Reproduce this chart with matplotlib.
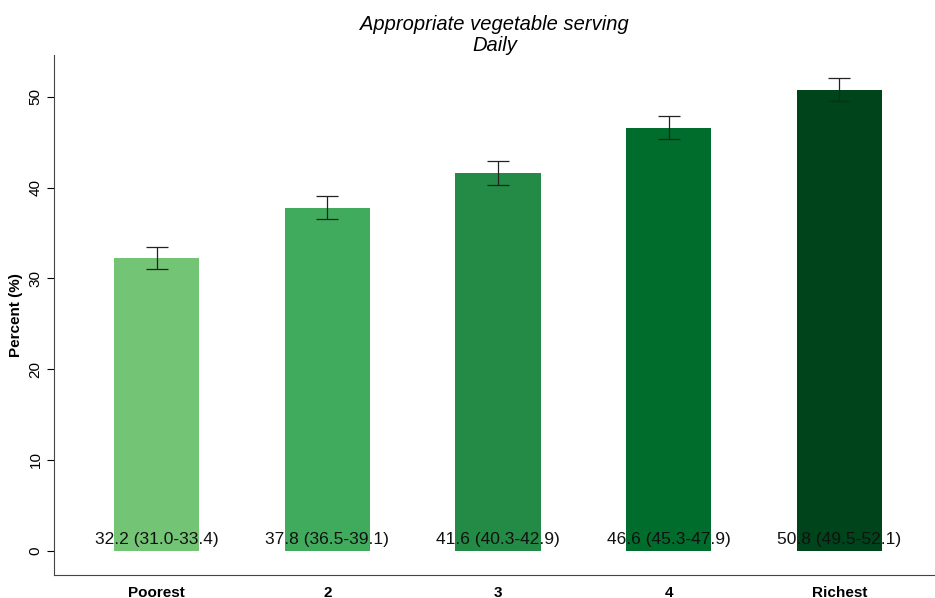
import matplotlib.pyplot as plt

plt.rcParams["font.family"] = ["Liberation Sans", "DejaVu Sans"]

groups = ["Poorest", "2", "3", "4", "Richest"]
percent = [32.2, 37.8, 41.6, 46.6, 50.8]
lower = [31.0, 36.5, 40.3, 45.3, 49.5]
upper = [33.4, 39.1, 42.9, 47.9, 52.1]
colors = ["#74c476", "#41ab5d", "#238b45", "#006d2c", "#00441b"]

fig = plt.figure(figsize=(9.35, 5.98), dpi=100)
ax = fig.add_axes([0.058, 0.039, 0.942, 0.869])

x = list(range(len(groups)))
err = [[p - l for p, l in zip(percent, lower)],
       [u - p for p, u in zip(percent, upper)]]
ax.bar(x, percent, width=0.5, color=colors)
ax.errorbar(x, percent, yerr=err, fmt="none", ecolor="#222222",
            elinewidth=0.9, capsize=8, capthick=0.9)

for xi, p, l, u in zip(x, percent, lower, upper):
    ax.text(xi, 1.2, "{0:.1f} ({1:.1f}-{2:.1f})".format(p, l, u),
            ha="center", va="center", fontsize=12.5, color="#111111")

ax.set_xlim(-0.6, 4.56)
ax.set_ylim(-2.65, 54.6)
ax.set_yticks([0, 10, 20, 30, 40, 50])
ax.set_xticks(x)
ax.set_xticklabels(groups, fontweight="bold", fontsize=11)
ax.tick_params(axis="x", length=0, pad=8)
ax.tick_params(axis="y", length=5, width=0.8, labelsize=11, labelrotation=90)
for lab in ax.get_yticklabels():
    lab.set_va("center")
ax.spines["top"].set_visible(False)
ax.spines["right"].set_visible(False)
ax.spines["left"].set_color("#444444")
ax.spines["bottom"].set_color("#444444")
ax.set_ylabel("Percent (%)", fontweight="bold", fontsize=11, labelpad=4)
ax.set_title("Appropriate vegetable serving\nDaily", fontstyle="italic",
             fontsize=14.5, linespacing=1.15, pad=3)

fig.savefig("out.png", dpi=100)
